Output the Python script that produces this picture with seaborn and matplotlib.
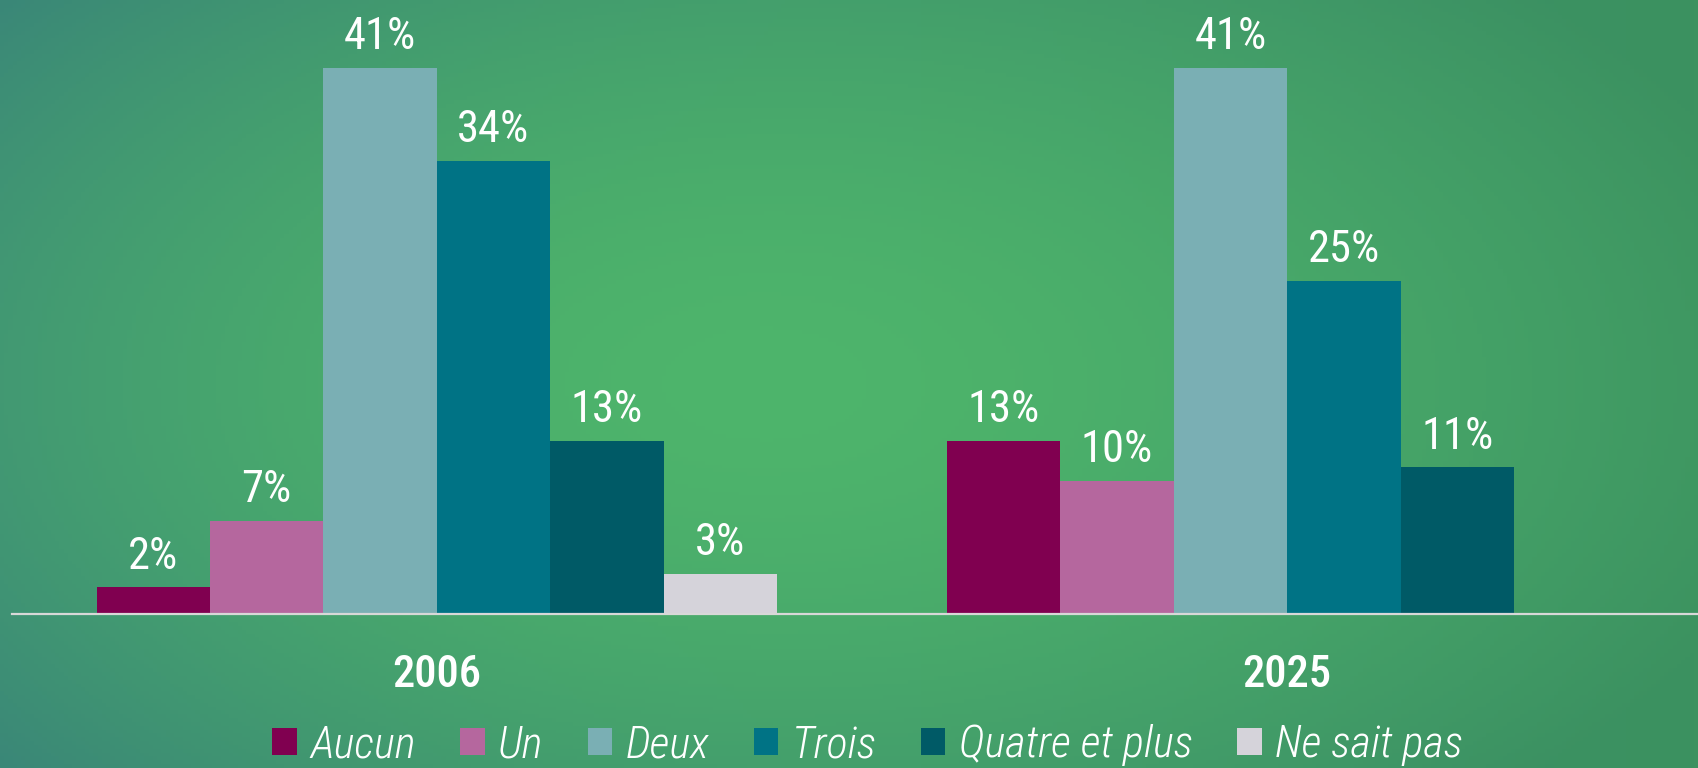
import numpy as np
import pandas as pd
import matplotlib
matplotlib.use("Agg")
import matplotlib.pyplot as plt
import seaborn as sns
from matplotlib.patches import Patch
from matplotlib import font_manager

# ---- data ----
years = ["2006", "2025"]
reponses = ["Aucun", "Un", "Deux", "Trois", "Quatre et plus", "Ne sait pas"]
values_2006 = [2, 7, 41, 34, 13, 3]
values_2025 = [13, 10, 41, 25, 11, None]
colors = ["#800050", "#B5679E", "#7AAFB4", "#007385", "#005A66", "#D5D3DA"]

rows = []
for yr, vals in zip(years, [values_2006, values_2025]):
    for rep, v in zip(reponses, vals):
        if v is not None:
            rows.append({"annee": yr, "reponse": rep, "valeur": v})
df = pd.DataFrame(rows)

sns.set_style("white")
names = {f.name for f in font_manager.fontManager.ttflist}
fam = [n for n in ["Roboto Condensed", "Open Sans Condensed", "DejaVu Sans"] if n in names]
plt.rcParams["font.family"] = fam + ["DejaVu Sans"]
plt.rcParams["font.stretch"] = "condensed"

W, H = 1698, 768
fig = plt.figure(figsize=(W / 100, H / 100), dpi=100)

# background gradient
bg = fig.add_axes([0, 0, 1, 1], zorder=-10)
gx, gy = np.meshgrid(np.linspace(0, 1, 400), np.linspace(0, 1, 200))
d = np.sqrt(((gx - 0.45) / 0.62) ** 2 + ((gy - 0.5) / 0.75) ** 2)
d = np.clip(d, 0, 1) ** 1.6
c_in = np.array([78, 181, 107]) / 255
left = np.array([58, 134, 120]) / 255
right = np.array([60, 146, 96]) / 255
c_out = left[None, None, :] * (1 - gx[..., None]) + right[None, None, :] * gx[..., None]
img = c_in[None, None, :] * (1 - d[..., None]) + c_out * d[..., None]
bg.imshow(img, aspect="auto", extent=[0, 1, 0, 1], origin="upper")
bg.axis("off")

# main axes
x0 = 11.5 / W
base = 614
ax = fig.add_axes([x0, (H - base) / H, 1 - x0, base / H])
ax.set_facecolor("none")

sns.barplot(data=df, x="annee", y="valeur", hue="reponse", hue_order=reponses,
            palette=colors, width=0.8, saturation=1, errorbar=None,
            ax=ax, legend=False, linewidth=0)

for cont in ax.containers:
    labels = [f"{int(b.get_height())}%" for b in cont]
    ax.bar_label(cont, labels=labels, padding=7, color="white", fontsize=32)

ax.set_xlim(-0.5, 1.483)
ax.set_ylim(0, base / 13.32)
ax.set_xlabel("")
ax.set_ylabel("")
ax.set_yticks([])
ax.tick_params(axis="x", length=0, pad=29, labelsize=32, labelcolor="white")
for lbl in ax.get_xticklabels():
    lbl.set_fontweight("medium")
for s in ["top", "left", "right"]:
    ax.spines[s].set_visible(False)
ax.spines["bottom"].set_color("#d8d8d8")
ax.spines["bottom"].set_linewidth(1.6)

handles = [Patch(facecolor=c, edgecolor="none", label=r) for c, r in zip(colors, reponses)]
leg = fig.legend(handles=handles, loc="center", bbox_to_anchor=(0.511, 1 - 745 / H),
                 ncol=6, frameon=False, fontsize=32, handlelength=0.55, handleheight=0.55,
                 handletextpad=0.3, columnspacing=1.0, borderpad=0)
for t in leg.get_texts():
    t.set_color("white")
    t.set_fontstyle("italic")
    t.set_fontweight("light")

fig.savefig("out.png", dpi=100)
